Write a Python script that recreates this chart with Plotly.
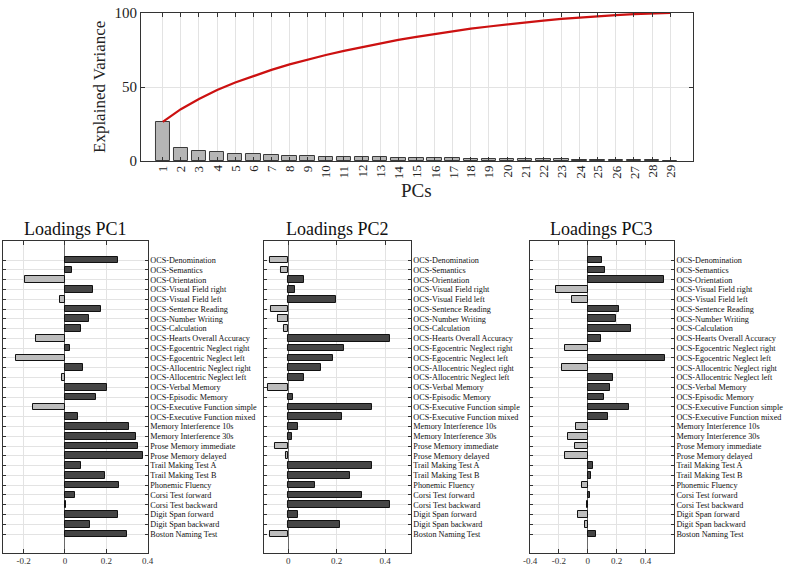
import plotly.graph_objects as go

# ---------------- data ----------------
pcs = list(range(1, 30))
explained = [26.5, 8.5, 6.9, 6.1, 5.0, 4.5, 4.1, 3.7, 3.3, 3.0,
             2.8, 2.6, 2.5, 2.3, 2.1, 2.0, 1.9, 1.6, 1.5, 1.5,
             1.3, 1.2, 1.1, 1.0, 0.9, 0.7, 0.6, 0.5, 0.3]

variables = ["OCS-Denomination", "OCS-Semantics", "OCS-Orientation",
             "OCS-Visual Field right", "OCS-Visual Field left",
             "OCS-Sentence Reading", "OCS-Number Writing", "OCS-Calculation",
             "OCS-Hearts Overall Accuracy", "OCS-Egocentric Neglect right",
             "OCS-Egocentric Neglect left", "OCS-Allocentric Neglect right",
             "OCS-Allocentric Neglect left", "OCS-Verbal Memory",
             "OCS-Episodic Memory", "OCS-Executive Function simple",
             "OCS-Executive Function mixed", "Memory Interference 10s",
             "Memory Interference 30s", "Prose Memory immediate",
             "Prose Memory delayed", "Trail Making Test A", "Trail Making Test B",
             "Phonemic Fluency", "Corsi Test forward", "Corsi Test backward",
             "Digit Span forward", "Digit Span backward", "Boston Naming Test"]

loadings_pc1 = [0.255, 0.036, -0.193, 0.137, -0.026, 0.176, 0.115, 0.078,
                -0.138, 0.026, -0.237, 0.086, -0.013, 0.203, 0.150, -0.154,
                0.063, 0.312, 0.345, 0.354, 0.377, 0.078, 0.195, 0.259,
                0.046, 0.006, 0.254, 0.122, 0.299]
loadings_pc2 = [-0.076, -0.028, 0.066, 0.028, 0.199, -0.073, -0.044, -0.018,
                0.420, 0.232, 0.183, 0.134, 0.066, -0.084, 0.018, 0.344,
                0.223, 0.040, 0.015, -0.055, -0.011, 0.347, 0.256, 0.111,
                0.303, 0.420, 0.040, 0.213, -0.077]
loadings_pc3 = [0.095, 0.118, 0.528, -0.222, -0.111, 0.213, 0.194, 0.299,
                0.090, -0.157, 0.532, -0.178, 0.178, 0.153, 0.113, 0.287,
                0.139, -0.079, -0.137, -0.088, -0.157, 0.039, 0.025, -0.037,
                0.014, -0.002, -0.069, -0.016, 0.056]

pc_ticks = [str(p) for p in pcs]

# ---------------- styling ----------------
FONT = "Liberation Serif"
AXCOL = "#333333"
GRID = "#e3e3e3"

cum = []
s = 0
for v in explained:
    s += v
    cum.append(s)

fig = go.Figure()

fig.add_trace(go.Bar(x=pcs, y=explained, width=0.8,
                     marker=dict(color="#b5b5b5", line=dict(color="#3a3a3a", width=1)),
                     xaxis="x", yaxis="y", showlegend=False))
fig.add_trace(go.Scatter(x=pcs, y=cum, mode="lines",
                         line=dict(color="#cc1111", width=2.2),
                         xaxis="x", yaxis="y", showlegend=False))

positions = list(range(len(variables)))
panels = [(loadings_pc1, "2", [-0.3, 0.4], [-0.2, 0, 0.2, 0.4], ["-0.2", "0", "0.2", "0.4"], [0.0038, 0.1874]),
          (loadings_pc2, "3", [-0.1, 0.506], [0, 0.2, 0.4], ["0", "0.2", "0.4"], [0.335, 0.5212]),
          (loadings_pc3, "4", [-0.4, 0.595], [-0.4, -0.2, 0, 0.2, 0.4], ["-0.4", "-0.2", "0", "0.2", "0.4"], [0.6726, 0.855])]

layout_axes = {}
for vals, k, xr, tv, tt, dom in panels:
    colors = ["#454545" if v >= 0 else "#bdbdbd" for v in vals]
    fig.add_trace(go.Bar(x=vals, y=positions, orientation="h", width=0.68,
                         marker=dict(color=colors, line=dict(color="#111111", width=1)),
                         xaxis="x" + k, yaxis="y" + k, showlegend=False))
    layout_axes["xaxis" + k] = dict(domain=dom, anchor="y" + k, range=xr, automargin=False,
                                    tickvals=tv, ticktext=tt, ticks="inside", ticklen=4,
                                    tickcolor=AXCOL, showline=True, linecolor=AXCOL,
                                    mirror="ticks", showgrid=True, gridcolor=GRID,
                                    zeroline=True, zerolinecolor="#6a6a6a", zerolinewidth=1,
                                    tickfont=dict(family=FONT, size=9, color="#333"),
                                    fixedrange=True)
    layout_axes["yaxis" + k] = dict(domain=[0.027, 0.5757], anchor="x" + k, automargin=False,
                                    range=[29.9, -1.95], side="right",
                                    tickvals=positions, ticktext=variables,
                                    ticks="inside", ticklen=3, tickcolor=AXCOL,
                                    showline=True, linecolor=AXCOL, mirror="ticks",
                                    showgrid=True, gridcolor=GRID, zeroline=False,
                                    tickfont=dict(family=FONT, size=8.2, color="#111"),
                                    fixedrange=True)

annotations = [
    dict(text="Explained Variance", x=100 / 788, y=1 - 87 / 568, xref="paper", yref="paper",
         textangle=-90, showarrow=False, font=dict(family=FONT, size=17, color="#222"),
         xanchor="center", yanchor="middle"),
    dict(text="PCs", x=417 / 788, y=1 - 190 / 568, xref="paper", yref="paper",
         showarrow=False, font=dict(family=FONT, size=19, color="#222"),
         xanchor="center", yanchor="middle"),
    dict(text="Loadings PC1", x=75.4 / 788, y=1 - 229 / 568, xref="paper", yref="paper",
         showarrow=False, font=dict(family=FONT, size=18, color="#111"),
         xanchor="center", yanchor="middle"),
    dict(text="Loadings PC2", x=337 / 788, y=1 - 229 / 568, xref="paper", yref="paper",
         showarrow=False, font=dict(family=FONT, size=18, color="#111"),
         xanchor="center", yanchor="middle"),
    dict(text="Loadings PC3", x=601 / 788, y=1 - 229 / 568, xref="paper", yref="paper",
         showarrow=False, font=dict(family=FONT, size=18, color="#111"),
         xanchor="center", yanchor="middle"),
]
# rotated PC tick labels (placed on the x axis scale)
for p, t in zip(pcs, pc_ticks):
    annotations.append(dict(text=t, x=p, y=1 - 164 / 568, xref="x", yref="paper",
                            textangle=-90, showarrow=False, borderpad=0,
                            font=dict(family=FONT, size=13, color="#222"),
                            xanchor="center", yanchor="top"))

fig.update_layout(
    width=788, height=568,
    margin=dict(l=0, r=0, t=0, b=0, pad=0, autoexpand=False),
    paper_bgcolor="white", plot_bgcolor="rgba(0,0,0,0)",
    bargap=0,
    xaxis=dict(domain=[0.1789, 0.879], anchor="y", range=[-0.2, 30.24], automargin=False,
               tickmode="array", tickvals=pcs, showticklabels=False,
               ticks="inside", ticklen=4, tickcolor=AXCOL,
               showline=True, linecolor=AXCOL, mirror="ticks",
               showgrid=True, gridcolor=GRID, zeroline=False),
    yaxis=dict(domain=[0.7165, 0.9771], anchor="x", range=[0, 100], automargin=False,
               tickvals=[0, 50, 100], ticks="inside", ticklen=4, tickcolor=AXCOL,
               showline=True, linecolor=AXCOL, mirror="ticks",
               showgrid=True, gridcolor=GRID, zeroline=False,
               tickfont=dict(family=FONT, size=15, color="#222")),
    **layout_axes,
    annotations=annotations,
)

fig.write_html("out.html", config={"displayModeBar": False},
               post_script="document.body.style.margin='0px';document.body.style.overflow='hidden';")
